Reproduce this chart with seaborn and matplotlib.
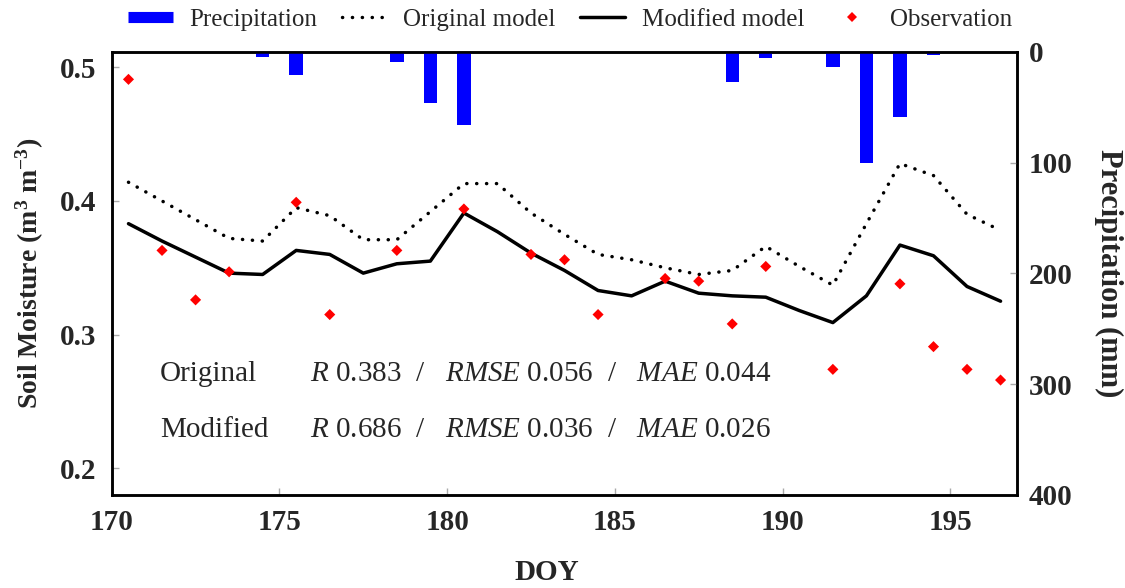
import numpy as np
import pandas as pd
import matplotlib
matplotlib.use("Agg")
import matplotlib.pyplot as plt
import seaborn as sns
from matplotlib.lines import Line2D

# ---------------- data ----------------
doy = [170.5, 171.5, 172.5, 173.5, 174.5, 175.5, 176.5, 177.5, 178.5, 179.5,
       180.5, 181.5, 182.5, 183.5, 184.5, 185.5, 186.5, 187.5, 188.5, 189.5,
       190.5, 191.5, 192.5, 193.5, 194.5, 195.5, 196.5]
original_model = [0.414, 0.400, 0.386, 0.372, 0.370, 0.395, 0.389, 0.371, 0.371, 0.392,
                  0.413, 0.413, 0.391, 0.375, 0.360, 0.356, 0.350, 0.345, 0.348, 0.366,
                  0.351, 0.337, 0.383, 0.428, 0.419, 0.390, 0.378]
modified_model = [0.383, 0.370, 0.358, 0.346, 0.345, 0.363, 0.360, 0.346, 0.353, 0.355,
                  0.391, 0.377, 0.361, 0.348, 0.333, 0.329, 0.340, 0.331, 0.329, 0.328,
                  0.318, 0.309, 0.329, 0.367, 0.359, 0.336, 0.325]
nan = np.nan
observation = [0.491, 0.363, 0.326, 0.347, nan, 0.399, 0.315, nan, 0.363, nan,
               0.394, nan, 0.360, 0.356, 0.315, nan, 0.342, 0.340, 0.308, 0.351,
               nan, 0.274, nan, 0.338, 0.291, 0.274, 0.266]
rain_doy = [174.5, 175.5, 178.5, 179.5, 180.5, 188.5, 189.5, 191.5, 192.5, 193.5, 194.5]
rain_mm = [5, 21, 9, 46, 66, 27, 6, 14, 100, 59, 3]

x_ticks = [170, 175, 180, 185, 190, 195]
sm_ticks = [0.2, 0.3, 0.4, 0.5]
pr_ticks = [0, 100, 200, 300, 400]

stats_original = r"$R$ 0.383  /   $RMSE$ 0.056  /   $MAE$ 0.044"
stats_modified = r"$R$ 0.686  /   $RMSE$ 0.036  /   $MAE$ 0.026"

# ---------------- style ----------------
sns.set_style("white")
plt.rcParams['font.family'] = ['Liberation Serif', 'DejaVu Serif']
plt.rcParams.update({
    'mathtext.fontset': 'custom',
    'mathtext.rm': 'Liberation Serif',
    'mathtext.it': 'Liberation Serif:italic',
    'mathtext.bf': 'Liberation Serif:bold',
})

fig = plt.figure(figsize=(11.25, 5.88), dpi=100)
ax = fig.add_axes([0.0993, 0.1582, 0.805, 0.7539])
ax2 = ax.twinx()

df = pd.DataFrame({'doy': doy, 'orig': original_model, 'mod': modified_model, 'obs': observation})
rain = pd.DataFrame({'doy': rain_doy, 'mm': rain_mm})

dot_style = (0, (0.05, 2.8))
sns.lineplot(data=df, x='doy', y='orig', ax=ax, color='black', lw=2.5,
             linestyle=dot_style, dash_capstyle='round')
sns.lineplot(data=df, x='doy', y='mod', ax=ax, color='black', lw=2.5)
sns.scatterplot(data=df.dropna(), x='doy', y='obs', ax=ax, marker='D', s=32,
                color='red', edgecolor='none', linewidth=0, zorder=5)

sns.barplot(data=rain, x='doy', y='mm', native_scale=True, width=0.4,
            color='#0000ff', saturation=1, errorbar=None, linewidth=0, ax=ax2)

# ---------------- axes ----------------
ax.set_xlim(170, 197)
ax.set_ylim(0.18, 0.5117)
ax2.set_ylim(400, 0)

tick_font = dict(fontsize=21, fontweight='bold')
ax.set_xticks(x_ticks, [str(t) for t in x_ticks], **tick_font)
ax.set_yticks(sm_ticks, [f"{t:.1f}" for t in sm_ticks], **tick_font)
ax2.set_yticks(pr_ticks, [str(t) for t in pr_ticks], **tick_font)

ax.tick_params(axis='x', bottom=True, direction='in', length=5, width=1,
               color='#aaaaaa', pad=10)
ax.tick_params(axis='y', left=True, direction='in', length=5, width=1,
               color='#aaaaaa', pad=11)
ax2.tick_params(axis='y', right=True, direction='in', length=5, width=1,
                color='#aaaaaa', pad=8)

for a in (ax, ax2):
    for s in a.spines.values():
        s.set_color('black')
        s.set_linewidth(1.8)

ax.set_xlabel('DOY', fontsize=21, fontweight='bold', va='center')
ax.xaxis.set_label_coords(0.4807, -0.176)
ax.set_ylabel(r"Soil Moisture (m$^{\mathbf{3}}$ m$^{\mathbf{-3}}$)", fontsize=20,
              fontweight='bold', va='center')
ax.yaxis.set_label_coords(-0.090, 0.5)
ax2.set_ylabel('Precipitation (mm)', fontsize=22, fontweight='bold',
               rotation=270, va='center')
ax2.yaxis.set_label_coords(1.101, 0.5)

ax.text(0.0533, 0.273, 'Original', transform=ax.transAxes, fontsize=21, va='center')
ax.text(0.219, 0.273, stats_original, transform=ax.transAxes, fontsize=21, va='center')
ax.text(0.0533, 0.147, 'Modified', transform=ax.transAxes, fontsize=21, va='center')
ax.text(0.219, 0.147, stats_modified, transform=ax.transAxes, fontsize=21, va='center')

handles = [
    Line2D([], [], color='#0000ff', lw=8, solid_capstyle='butt'),
    Line2D([], [], color='black', lw=2.5, linestyle=dot_style, dash_capstyle='round'),
    Line2D([], [], color='black', lw=2.5),
    Line2D([], [], color='red', marker='D', markersize=5, linestyle='none', markeredgewidth=0),
]
labels = ['Precipitation', 'Original model', 'Modified model', 'Observation']
fig.legend(handles, labels, loc='center', bbox_to_anchor=(0.5067, 0.966), ncol=4,
           frameon=False, fontsize=18, handlelength=1.8, handletextpad=0.65,
           columnspacing=1.0)

fig.savefig('out.png', dpi=100)
